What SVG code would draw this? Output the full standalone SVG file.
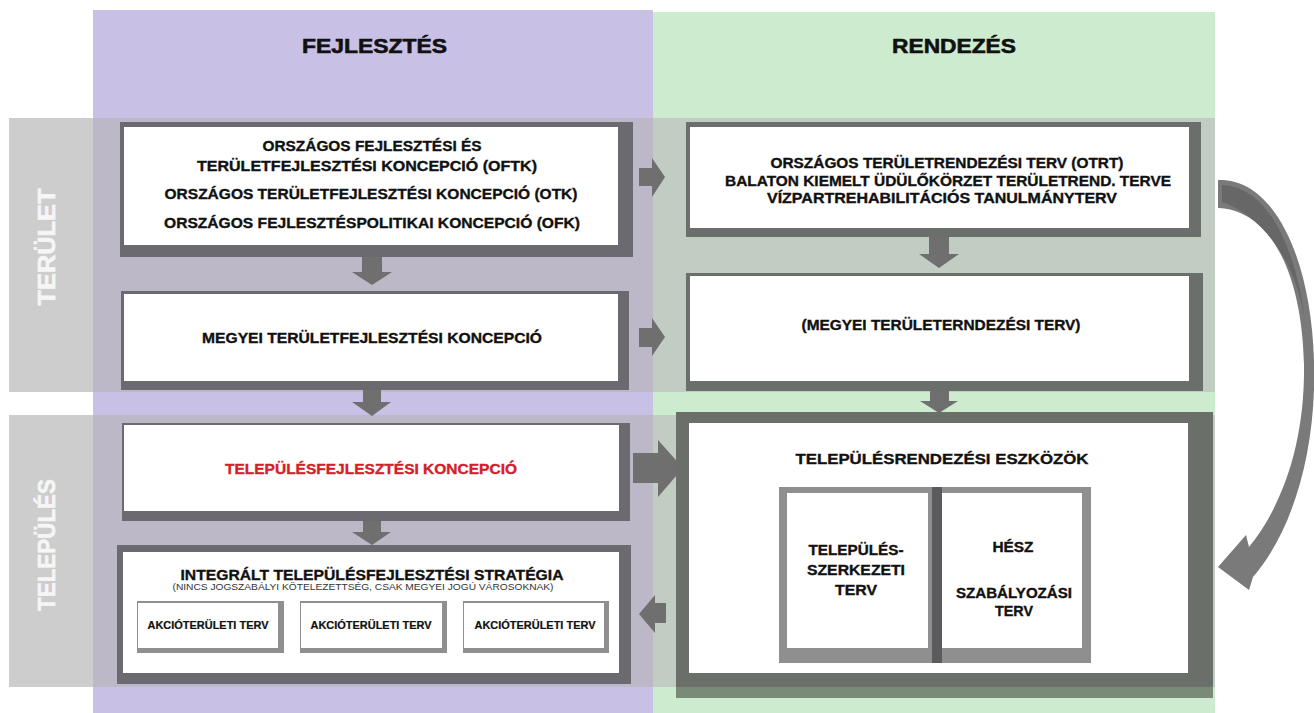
<svg xmlns="http://www.w3.org/2000/svg" width="1314" height="713" viewBox="0 0 1314 713">
<style>
.t{font-family:"Liberation Sans",Arial,Helvetica,sans-serif;font-weight:bold;fill:#111;text-anchor:middle;stroke:#111;stroke-width:0.35px}
.lbl{font-family:"Liberation Sans",Arial,Helvetica,sans-serif;font-weight:bold;fill:#f6f6f6;text-anchor:middle;font-size:23px;stroke:#f6f6f6;stroke-width:0.6px}
.fp{fill:#6b6a70}
.fg{fill:#6b6f6b}
.w{fill:#ffffff}
.arr{fill:#6f6f6f}
.sub{fill:#8f8f8f}
</style>
<rect width="1314" height="713" fill="#ffffff"/>
<g id="columns">
<rect x="93" y="10" width="560" height="703" fill="#c9c1e5"/>
<rect x="653" y="12" width="562" height="701" fill="#cdebcf"/>
<text class="t" x="374.5" y="53" font-size="21" style="stroke-width:0.6px" textLength="145" lengthAdjust="spacingAndGlyphs">FEJLESZTÉS</text>
<text class="t" x="954" y="53" font-size="21" style="stroke-width:0.6px" textLength="124" lengthAdjust="spacingAndGlyphs">RENDEZÉS</text>
</g>
<g id="band-terulet">
<rect x="9" y="118" width="84" height="274" fill="#cdcdcd"/>
<rect x="93" y="118" width="560" height="274" fill="#bcb8c7"/>
<rect x="653" y="118" width="562" height="274" fill="#c1cdc2"/>
<text class="lbl" transform="translate(55,247) rotate(-90)" textLength="117" lengthAdjust="spacingAndGlyphs">TERÜLET</text>
</g>
<g id="band-telepules">
<rect x="9" y="415" width="84" height="272" fill="#cdcdcd"/>
<rect x="93" y="415" width="560" height="272" fill="#bcb8c7"/>
<rect x="653" y="415" width="562" height="272" fill="#c1cdc2"/>
<text class="lbl" transform="translate(55,545) rotate(-90)" textLength="132" lengthAdjust="spacingAndGlyphs">TELEPÜLÉS</text>
</g>
<g id="connectors">
<polygon class="arr" points="362,257 382,257 382,272 392,272 372,285 352,272 362,272"/>
<polygon class="arr" points="363,390 381,390 381,402 391,402 372,416 352,402 363,402"/>
<polygon class="arr" points="363,521 381,521 381,532 391,532 372,545 352,532 363,532"/>
<polygon class="arr" points="929,237 949,237 949,254 959,254 939,268 919,254 929,254"/>
<polygon class="arr" points="930,391 949,391 949,401 958,401 939,413 920,401 930,401"/>
<polygon class="arr" points="639,168 652,168 652,158 665,177 652,197 652,186 639,186"/>
<polygon class="arr" points="639,328 652,328 652,318 665,337 652,356 652,347 639,347"/>
<polygon class="arr" points="633,453 658,453 658,440 683,468 658,497 658,483 633,483"/>
<polygon class="arr" points="666,603 655,603 655,595 639,614 655,633 655,623 666,623"/>
<path fill="#7a7a7a" d="M1218,180 C1275,178 1311,260 1314,360 C1317,452 1292,532 1253,577 L1249,590 L1218,567 L1246,535 L1249,547 C1284,504 1305,440 1304,365 C1302,272 1270,210 1218,208 Z"/>
<path fill="#676767" d="M1222,185 C1268,186 1298,250 1306,330 C1300,270 1268,218 1222,202 Z"/>
</g>
<g id="node-oftk">
<rect class="fp" x="120" y="122" width="513" height="135"/>
<rect class="w" x="124" y="127" width="494" height="118"/>
<text class="t" x="372" y="151" font-size="15" textLength="219" lengthAdjust="spacingAndGlyphs">ORSZÁGOS FEJLESZTÉSI ÉS</text>
<text class="t" x="367" y="171" font-size="15" textLength="340" lengthAdjust="spacingAndGlyphs">TERÜLETFEJLESZTÉSI KONCEPCIÓ (OFTK)</text>
<text class="t" x="371" y="199" font-size="15" textLength="413" lengthAdjust="spacingAndGlyphs">ORSZÁGOS TERÜLETFEJLESZTÉSI KONCEPCIÓ (OTK)</text>
<text class="t" x="372" y="228" font-size="15" textLength="416" lengthAdjust="spacingAndGlyphs">ORSZÁGOS FEJLESZTÉSPOLITIKAI KONCEPCIÓ (OFK)</text>
</g>
<g id="node-megyei-fejl">
<rect class="fp" x="121" y="291" width="508" height="99"/>
<rect class="w" x="124" y="294" width="494" height="87"/>
<text class="t" x="372" y="343" font-size="15" textLength="340" lengthAdjust="spacingAndGlyphs">MEGYEI TERÜLETFEJLESZTÉSI KONCEPCIÓ</text>
</g>
<g id="node-otrt">
<rect class="fg" x="686" y="122" width="515" height="115"/>
<rect class="w" x="690" y="127" width="499" height="101"/>
<text class="t" x="947" y="168" font-size="14.5" textLength="353" lengthAdjust="spacingAndGlyphs">ORSZÁGOS TERÜLETRENDEZÉSI TERV (OTRT)</text>
<text class="t" x="948" y="186" font-size="14.5" textLength="446" lengthAdjust="spacingAndGlyphs">BALATON KIEMELT ÜDÜLŐKÖRZET TERÜLETREND. TERVE</text>
<text class="t" x="942" y="203" font-size="14.5" textLength="350" lengthAdjust="spacingAndGlyphs">VÍZPARTREHABILITÁCIÓS TANULMÁNYTERV</text>
</g>
<g id="node-megyei-rend">
<rect class="fg" x="686" y="273" width="517" height="118"/>
<rect class="w" x="690" y="276" width="499" height="105"/>
<text class="t" x="941" y="330" font-size="15" textLength="279" lengthAdjust="spacingAndGlyphs">(MEGYEI TERÜLETERNDEZÉSI TERV)</text>
</g>
<g id="node-tfk">
<rect class="fp" x="122" y="423" width="508" height="98"/>
<rect class="w" x="124" y="425" width="495" height="86"/>
<text class="t" x="371" y="474" font-size="15" style="fill:#d4202a;stroke:#d4202a" textLength="292" lengthAdjust="spacingAndGlyphs">TELEPÜLÉSFEJLESZTÉSI KONCEPCIÓ</text>
</g>
<g id="node-its">
<rect class="fp" x="117" y="545" width="514" height="139"/>
<rect class="w" x="123" y="552" width="496" height="121"/>
<text class="t" x="372" y="580" font-size="15.5" textLength="383" lengthAdjust="spacingAndGlyphs">INTEGRÁLT TELEPÜLÉSFEJLESZTÉSI STRATÉGIA</text>
<text x="363" y="590" font-family="'Liberation Sans',Arial,sans-serif" font-size="9.5" fill="#333" text-anchor="middle" textLength="381" lengthAdjust="spacingAndGlyphs">(NINCS JOGSZABÁLYI KÖTELEZETTSÉG, CSAK MEGYEI JOGÚ VÁROSOKNAK)</text>
</g>
<g id="node-akcio-1">
<rect class="sub" x="137" y="601" width="147" height="52"/>
<rect class="w" x="138" y="603" width="140" height="45"/>
<text class="t" x="208" y="629" font-size="10" style="stroke-width:0.2px" textLength="121" lengthAdjust="spacingAndGlyphs">AKCIÓTERÜLETI TERV</text>
</g>
<g id="node-akcio-2">
<rect class="sub" x="300" y="601" width="147" height="52"/>
<rect class="w" x="301" y="603" width="141" height="45"/>
<text class="t" x="371" y="629" font-size="10" style="stroke-width:0.2px" textLength="121" lengthAdjust="spacingAndGlyphs">AKCIÓTERÜLETI TERV</text>
</g>
<g id="node-akcio-3">
<rect class="sub" x="463" y="601" width="146" height="52"/>
<rect class="w" x="464" y="603" width="140" height="45"/>
<text class="t" x="535" y="629" font-size="10" style="stroke-width:0.2px" textLength="121" lengthAdjust="spacingAndGlyphs">AKCIÓTERÜLETI TERV</text>
</g>
<g id="node-eszkozok">
<rect x="676" y="412" width="537" height="286" fill="#6b6f6a"/>
<rect x="676" y="687" width="537" height="11" fill="#7a8a79"/>
<rect class="w" x="689" y="423" width="499" height="250"/>
<text class="t" x="942" y="464" font-size="15.5" textLength="293" lengthAdjust="spacingAndGlyphs">TELEPÜLÉSRENDEZÉSI ESZKÖZÖK</text>
</g>
<g id="node-tszt">
<rect class="sub" x="779" y="487" width="153" height="176"/>
<rect class="w" x="787" y="493" width="141" height="155"/>
<text class="t" x="856" y="555" font-size="14.5" textLength="95" lengthAdjust="spacingAndGlyphs">TELEPÜLÉS-</text>
<text class="t" x="856" y="575" font-size="14.5" textLength="98" lengthAdjust="spacingAndGlyphs">SZERKEZETI</text>
<text class="t" x="856" y="595" font-size="14.5" textLength="42" lengthAdjust="spacingAndGlyphs">TERV</text>
</g>
<g id="node-hesz">
<rect class="sub" x="942" y="487" width="149" height="176"/>
<rect class="w" x="942" y="493" width="140" height="155"/>
<rect x="932" y="487" width="10" height="176" fill="#5b5b5d"/>
<text class="t" x="1013" y="552" font-size="14.5" textLength="41" lengthAdjust="spacingAndGlyphs">HÉSZ</text>
<text class="t" x="1014" y="598" font-size="14.5" textLength="116" lengthAdjust="spacingAndGlyphs">SZABÁLYOZÁSI</text>
<text class="t" x="1014" y="616" font-size="14.5" textLength="38" lengthAdjust="spacingAndGlyphs">TERV</text>
</g>
</svg>
